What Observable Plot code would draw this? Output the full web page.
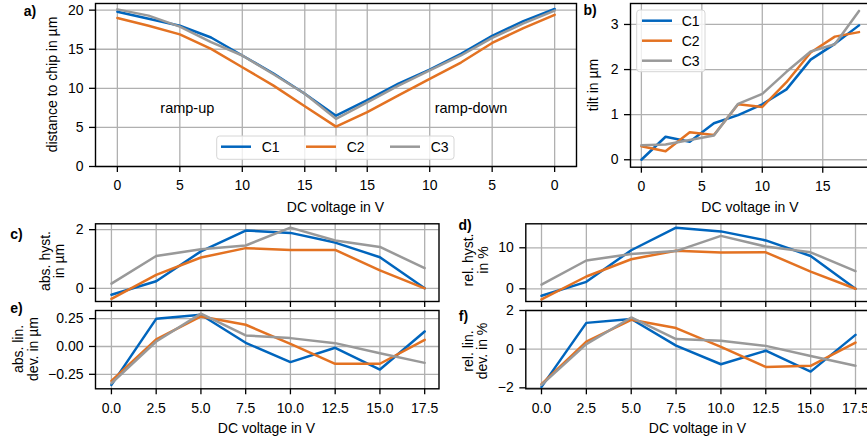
<!DOCTYPE html>
<html><head><meta charset="utf-8">
<script src="https://cdn.jsdelivr.net/npm/d3@7"></script>
<script src="https://cdn.jsdelivr.net/npm/@observablehq/plot@0.6"></script>
<style>
body{margin:0;background:#fff;overflow:hidden}
#fig{position:relative;width:867px;height:441px;overflow:hidden;font-family:"Liberation Sans",Arial,sans-serif;background:#fff}
#fig > svg{position:absolute}
</style></head><body><div id="fig"></div>
<script>
// ---------- data ----------
const seriesNames = ["C1", "C2", "C3"];
const seriesColors = ["#0065BD", "#E37222", "#999999"];

// a) distance to chip: ramp-up 0..17.5 V then ramp-down 15..0 V (positions 0..35)
const aPosition = [0, 2.5, 5, 7.5, 10, 12.5, 15, 17.5, 20, 22.5, 25, 27.5, 30, 32.5, 35];
const aC1 = [19.8, 18.9, 18.0, 16.5, 14.2, 11.9, 9.3, 6.5, 8.5, 10.6, 12.4, 14.4, 16.7, 18.6, 20.15];
const aC2 = [19.0, 18.0, 16.9, 15.05, 12.7, 10.35, 7.7, 5.1, 6.95, 9.1, 11.2, 13.3, 15.8, 17.7, 19.4];
const aC3 = [20.1, 19.3, 17.9, 15.9, 14.2, 11.8, 9.3, 6.1, 8.2, 10.35, 12.3, 14.2, 16.45, 18.3, 19.95];
const aTickPos = [0, 5, 10, 15, 17.5, 20, 25, 30, 35];
const aTickLabels = ["0", "5", "10", "15", "", "15", "10", "5", "0"];
const aYTicks = [0, 5, 10, 15, 20];

// b) tilt
const bVoltage = [0, 2, 4, 6, 8, 10, 12, 14, 16, 18];
const bC1 = [0.0, 0.51, 0.40, 0.81, 0.99, 1.23, 1.56, 2.22, 2.57, 2.98];
const bC2 = [0.30, 0.19, 0.61, 0.55, 1.23, 1.17, 1.72, 2.38, 2.73, 2.83];
const bC3 = [0.32, 0.34, 0.44, 0.54, 1.24, 1.46, 1.95, 2.40, 2.56, 3.30];
const bXTicks = [0, 5, 10, 15];
const bYTicks = [0, 1, 2, 3];

// c-f) shared voltage axis
const voltage = [0, 2.5, 5, 7.5, 10, 12.5, 15, 17.5];
const vTicks = [0, 2.5, 5, 7.5, 10, 12.5, 15, 17.5];

// c) absolute hysteresis
const cC1 = [-0.22, 0.24, 1.26, 1.97, 1.89, 1.56, 1.06, 0.0];
const cC2 = [-0.36, 0.46, 1.05, 1.37, 1.31, 1.31, 0.61, 0.0];
const cC3 = [0.16, 1.10, 1.33, 1.46, 2.07, 1.63, 1.41, 0.69];
const cYTicks = [0, 2];

// d) relative hysteresis
const dC1 = [-1.7, 1.7, 9.4, 14.9, 14.0, 11.8, 8.0, 0.0];
const dC2 = [-2.6, 3.0, 7.2, 9.3, 8.85, 8.9, 4.2, 0.0];
const dC3 = [1.0, 6.9, 8.5, 9.2, 12.9, 10.3, 8.9, 4.3];
const dYTicks = [0, 10];

// e) absolute linearity deviation
const eC1 = [-0.345, 0.248, 0.285, 0.033, -0.14, -0.012, -0.207, 0.135];
const eC2 = [-0.31, 0.063, 0.27, 0.195, 0.024, -0.156, -0.155, 0.06];
const eC3 = [-0.33, 0.045, 0.295, 0.099, 0.075, 0.03, -0.06, -0.147];
const eYTicks = [-0.25, 0, 0.25];

// f) relative linearity deviation
const fC1 = [-1.95, 1.36, 1.56, 0.18, -0.78, -0.08, -1.16, 0.74];
const fC2 = [-1.81, 0.39, 1.52, 1.09, 0.12, -0.92, -0.86, 0.34];
const fC3 = [-1.85, 0.26, 1.64, 0.52, 0.43, 0.17, -0.35, -0.86];
const fYTicks = [-2, 0, 2];

// ---------- helpers ----------
const FS = 14;
const FONT = '"Liberation Sans", Arial, sans-serif';
const fig = document.getElementById("fig");
function table(xs, ys) {
  const rows = [];
  ys.forEach((arr, i) => arr.forEach((v, j) => rows.push({x: xs[j], y: v, s: seriesNames[i]})));
  return rows;
}
const GRID = "#b0b0b0";
function panel(o) {
  const W = o.width, H = o.height;
  const svg = Plot.plot({
    width: W, height: H,
    marginLeft: o.fx0 - o.left, marginRight: o.left + W - o.fx1,
    marginTop: o.fy0 - o.top, marginBottom: o.top + H - o.fy1,
    style: {fontFamily: FONT, fontSize: FS + "px", background: "transparent", overflow: "visible", color: "#000"},
    x: {domain: o.xDomain},
    y: {domain: o.yDomain},
    color: {domain: seriesNames, range: seriesColors},
    marks: [
      Plot.gridX(o.xTicks, {stroke: GRID, strokeOpacity: 1, strokeWidth: 1.3}),
      Plot.gridY(o.yTicks, {stroke: GRID, strokeOpacity: 1, strokeWidth: 1.3}),
      Plot.line(o.data, {x: "x", y: "y", z: "s", stroke: "s", strokeWidth: 2.5, strokeLinejoin: "round"}),
      ...(o.extra || []),
      Plot.frame({stroke: "#000", strokeWidth: 1.4}),
      Plot.axisX(o.xTicks, {anchor: "bottom", tickSize: 6, tickPadding: 8, strokeWidth: 1.3, fontSize: FS, tickFormat: o.xFmt, label: null}),
      Plot.axisY(o.yTicks, {anchor: "left", tickSize: 6, tickPadding: 6, strokeWidth: 1.3, fontSize: FS, tickFormat: o.yFmt, label: null})
    ]
  });
  svg.style.left = o.left + "px";
  svg.style.top = o.top + "px";
  fig.appendChild(svg);
}
const minus = s => s.replace("-", "\u2212");

// a)
panel({left: 55, top: 0, width: 545, height: 200, fx0: 95, fx1: 576, fy0: 3, fy1: 166,
  xDomain: [-1.75, 36.75], yDomain: [0, 20.85], xTicks: aTickPos, yTicks: aYTicks,
  xFmt: d => aTickLabels[aTickPos.indexOf(d)], yFmt: d => String(d),
  data: table(aPosition, [aC1, aC2, aC3]),
  extra: [
    Plot.text(["ramp-up"], {x: 5.6, y: 7.4, text: d => d, fontSize: FS + 0.5}),
    Plot.text(["ramp-down"], {x: 28.3, y: 7.4, text: d => d, fontSize: FS + 0.5})
  ]});
// b)
panel({left: 598, top: 0, width: 302, height: 200, fx0: 630, fx1: 869.4, fy0: 3, fy1: 166.7,
  xDomain: [-0.9, 18.9], yDomain: [-0.165, 3.465], xTicks: bXTicks, yTicks: bYTicks,
  xFmt: d => String(d), yFmt: d => String(d),
  data: table(bVoltage, [bC1, bC2, bC3])});
// c)
panel({left: 40, top: 215, width: 420, height: 95, fx0: 95, fx1: 438.5, fy0: 223.3, fy1: 301,
  xDomain: [-0.89, 18.3], yDomain: [-0.45, 2.2], xTicks: vTicks, yTicks: cYTicks,
  xFmt: () => "", yFmt: d => String(d),
  data: table(voltage, [cC1, cC2, cC3])});
// e)
panel({left: 40, top: 305, width: 420, height: 136, fx0: 95, fx1: 438.5, fy0: 310, fy1: 388.3,
  xDomain: [-0.89, 18.3], yDomain: [-0.38, 0.323], xTicks: vTicks, yTicks: eYTicks,
  xFmt: d => d3.format(".1f")(d), yFmt: d => minus(d3.format(".2f")(d)),
  data: table(voltage, [eC1, eC2, eC3])});
// d)
panel({left: 480, top: 215, width: 420, height: 95, fx0: 525.3, fx1: 870.7, fy0: 223.3, fy1: 301,
  xDomain: [-0.875, 18.375], yDomain: [-3.1, 15.85], xTicks: vTicks, yTicks: dYTicks,
  xFmt: () => "", yFmt: d => String(d),
  data: table(voltage, [dC1, dC2, dC3])});
// f)
panel({left: 480, top: 305, width: 420, height: 136, fx0: 525.3, fx1: 870.7, fy0: 310, fy1: 388.3,
  xDomain: [-0.875, 18.375], yDomain: [-2.05, 2.0], xTicks: vTicks, yTicks: fYTicks,
  xFmt: d => d3.format(".1f")(d), yFmt: d => minus(String(d)),
  data: table(voltage, [fC1, fC2, fC3])});

// ---------- labels, legends ----------
const ov = d3.select(fig).append("svg").attr("width", 867).attr("height", 441)
  .style("left", "0px").style("top", "0px")
  .attr("font-family", FONT).attr("font-size", FS);

function txt(s, x, y, opt = {}) {
  const t = ov.append("text").attr("x", x).attr("y", y).attr("text-anchor", opt.anchor || "middle")
    .attr("dominant-baseline", "central").text(s);
  if (opt.bold) t.attr("font-weight", "bold");
  if (opt.rot) t.attr("transform", `rotate(-90 ${x} ${y})`);
  return t;
}
[["a)", 30, 10.5], ["b)", 590, 10], ["c)", 16.5, 233.5], ["d)", 465, 224.5], ["e)", 16.5, 308], ["f)", 463.5, 316]]
  .forEach(([s, x, y]) => txt(s, x, y, {bold: true}));
txt("distance to chip in µm", 51.5, 84.5, {rot: true});
txt("tilt in µm", 593, 85, {rot: true});
txt("DC voltage in V", 335.5, 207);
txt("DC voltage in V", 750, 207);
txt("DC voltage in V", 266.5, 427.7);
txt("DC voltage in V", 697.5, 427.7);
txt("abs. hyst.", 45, 261, {rot: true}); txt("in µm", 58.5, 261, {rot: true});
txt("abs. lin.", 18.3, 349, {rot: true}); txt("dev. in µm", 33.3, 349, {rot: true});
txt("rel. hyst.", 468, 260, {rot: true}); txt("in %", 482.5, 260, {rot: true});
txt("rel. lin.", 468, 351, {rot: true}); txt("dev. in %", 482, 351, {rot: true});

function legendBox(x0, y0, x1, y1) {
  ov.append("rect").attr("x", x0).attr("y", y0).attr("width", x1 - x0).attr("height", y1 - y0)
    .attr("rx", 3).attr("fill", "#fff").attr("fill-opacity", 0.8).attr("stroke", "#d6d6d6").attr("stroke-width", 1);
}
function legendEntry(i, lx, ly, tx) {
  ov.append("line").attr("x1", lx).attr("x2", lx + 30).attr("y1", ly).attr("y2", ly)
    .attr("stroke", seriesColors[i]).attr("stroke-width", 2.5);
  txt(seriesNames[i], tx, ly, {anchor: "start"});
}
legendBox(216.7, 136, 454, 159.3);
[[221, 261.7], [306, 346.7], [390, 430.7]].forEach(([lx, tx], i) => legendEntry(i, lx, 146.7, tx));
legendBox(636.7, 10, 705, 71.7);
[20.7, 40.7, 60.7].forEach((ly, i) => legendEntry(i, 642, ly, 681.7));
</script></body></html>
